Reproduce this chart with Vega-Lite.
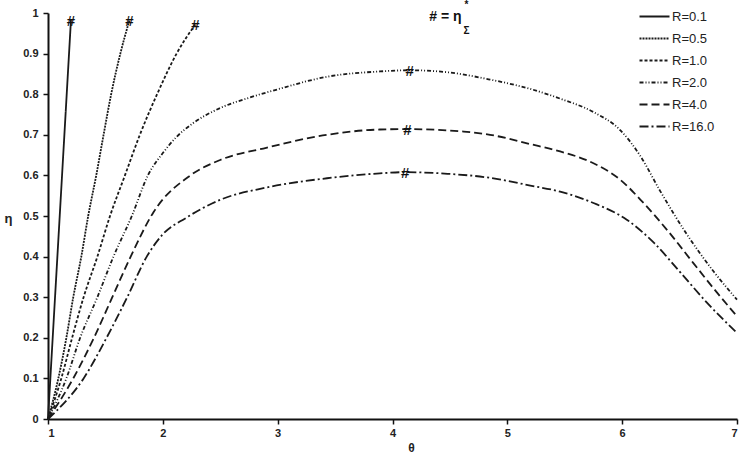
{
  "$schema": "https://vega.github.io/schema/vega-lite/v6.json",
  "width": 689,
  "height": 406,
  "autosize": {"type": "none"},
  "padding": {"left": 48, "top": 13, "right": 3, "bottom": 39},
  "background": "white",
  "config": {
    "view": {"stroke": null},
    "font": "Liberation Sans",
    "axis": {
      "grid": false,
      "domainColor": "#111",
      "domainWidth": 2,
      "tickColor": "#111",
      "tickWidth": 1.5,
      "tickSize": 5,
      "labelFont": "Liberation Sans",
      "labelFontWeight": "bold",
      "labelFontSize": 11,
      "labelColor": "#222",
      "titleFont": "Liberation Sans",
      "titleFontWeight": "bold",
      "titleColor": "#222"
    }
  },
  "datasets": {
    "curves": [
      {"theta": 1.0, "eta": 0.0, "R": "R=0.1"},
      {"theta": 1.1, "eta": 0.49, "R": "R=0.1"},
      {"theta": 1.2, "eta": 0.983, "R": "R=0.1"},

      {"theta": 1.0, "eta": 0.0, "R": "R=0.5"},
      {"theta": 1.09, "eta": 0.1, "R": "R=0.5"},
      {"theta": 1.16, "eta": 0.2, "R": "R=0.5"},
      {"theta": 1.22, "eta": 0.3, "R": "R=0.5"},
      {"theta": 1.29, "eta": 0.4, "R": "R=0.5"},
      {"theta": 1.35, "eta": 0.5, "R": "R=0.5"},
      {"theta": 1.42, "eta": 0.6, "R": "R=0.5"},
      {"theta": 1.484, "eta": 0.7, "R": "R=0.5"},
      {"theta": 1.55, "eta": 0.8, "R": "R=0.5"},
      {"theta": 1.63, "eta": 0.9, "R": "R=0.5"},
      {"theta": 1.71, "eta": 0.983, "R": "R=0.5"},

      {"theta": 1.0, "eta": 0.0, "R": "R=1.0"},
      {"theta": 1.116, "eta": 0.1, "R": "R=1.0"},
      {"theta": 1.21, "eta": 0.2, "R": "R=1.0"},
      {"theta": 1.31, "eta": 0.3, "R": "R=1.0"},
      {"theta": 1.43, "eta": 0.4, "R": "R=1.0"},
      {"theta": 1.54, "eta": 0.5, "R": "R=1.0"},
      {"theta": 1.67, "eta": 0.6, "R": "R=1.0"},
      {"theta": 1.80, "eta": 0.7, "R": "R=1.0"},
      {"theta": 1.95, "eta": 0.8, "R": "R=1.0"},
      {"theta": 2.12, "eta": 0.9, "R": "R=1.0"},
      {"theta": 2.283, "eta": 0.972, "R": "R=1.0"},

      {"theta": 1.0, "eta": 0.0, "R": "R=2.0"},
      {"theta": 1.16, "eta": 0.1, "R": "R=2.0"},
      {"theta": 1.28, "eta": 0.2, "R": "R=2.0"},
      {"theta": 1.43, "eta": 0.3, "R": "R=2.0"},
      {"theta": 1.57, "eta": 0.4, "R": "R=2.0"},
      {"theta": 1.73, "eta": 0.5, "R": "R=2.0"},
      {"theta": 1.87, "eta": 0.6, "R": "R=2.0"},
      {"theta": 2.0, "eta": 0.655, "R": "R=2.0"},
      {"theta": 2.12, "eta": 0.695, "R": "R=2.0"},
      {"theta": 2.26, "eta": 0.728, "R": "R=2.0"},
      {"theta": 2.5, "eta": 0.766, "R": "R=2.0"},
      {"theta": 2.76, "eta": 0.792, "R": "R=2.0"},
      {"theta": 3.0, "eta": 0.812, "R": "R=2.0"},
      {"theta": 3.43, "eta": 0.843, "R": "R=2.0"},
      {"theta": 3.89, "eta": 0.856, "R": "R=2.0"},
      {"theta": 4.15, "eta": 0.859, "R": "R=2.0"},
      {"theta": 4.48, "eta": 0.854, "R": "R=2.0"},
      {"theta": 4.85, "eta": 0.836, "R": "R=2.0"},
      {"theta": 5.2, "eta": 0.813, "R": "R=2.0"},
      {"theta": 5.46, "eta": 0.789, "R": "R=2.0"},
      {"theta": 5.75, "eta": 0.756, "R": "R=2.0"},
      {"theta": 5.985, "eta": 0.711, "R": "R=2.0"},
      {"theta": 6.16, "eta": 0.647, "R": "R=2.0"},
      {"theta": 6.33, "eta": 0.562, "R": "R=2.0"},
      {"theta": 6.57, "eta": 0.452, "R": "R=2.0"},
      {"theta": 6.8, "eta": 0.362, "R": "R=2.0"},
      {"theta": 7.0, "eta": 0.294, "R": "R=2.0"},

      {"theta": 1.0, "eta": 0.0, "R": "R=4.0"},
      {"theta": 1.22, "eta": 0.1, "R": "R=4.0"},
      {"theta": 1.40, "eta": 0.2, "R": "R=4.0"},
      {"theta": 1.56, "eta": 0.3, "R": "R=4.0"},
      {"theta": 1.72, "eta": 0.4, "R": "R=4.0"},
      {"theta": 1.92, "eta": 0.51, "R": "R=4.0"},
      {"theta": 2.24, "eta": 0.6, "R": "R=4.0"},
      {"theta": 2.5, "eta": 0.638, "R": "R=4.0"},
      {"theta": 2.9, "eta": 0.668, "R": "R=4.0"},
      {"theta": 3.43, "eta": 0.700, "R": "R=4.0"},
      {"theta": 3.89, "eta": 0.713, "R": "R=4.0"},
      {"theta": 4.13, "eta": 0.714, "R": "R=4.0"},
      {"theta": 4.62, "eta": 0.708, "R": "R=4.0"},
      {"theta": 4.85, "eta": 0.700, "R": "R=4.0"},
      {"theta": 5.2, "eta": 0.677, "R": "R=4.0"},
      {"theta": 5.46, "eta": 0.659, "R": "R=4.0"},
      {"theta": 5.75, "eta": 0.630, "R": "R=4.0"},
      {"theta": 5.985, "eta": 0.589, "R": "R=4.0"},
      {"theta": 6.16, "eta": 0.540, "R": "R=4.0"},
      {"theta": 6.39, "eta": 0.466, "R": "R=4.0"},
      {"theta": 6.62, "eta": 0.384, "R": "R=4.0"},
      {"theta": 6.83, "eta": 0.310, "R": "R=4.0"},
      {"theta": 7.0, "eta": 0.253, "R": "R=4.0"},

      {"theta": 1.0, "eta": 0.0, "R": "R=16.0"},
      {"theta": 1.31, "eta": 0.1, "R": "R=16.0"},
      {"theta": 1.51, "eta": 0.2, "R": "R=16.0"},
      {"theta": 1.69, "eta": 0.3, "R": "R=16.0"},
      {"theta": 1.86, "eta": 0.4, "R": "R=16.0"},
      {"theta": 2.0, "eta": 0.455, "R": "R=16.0"},
      {"theta": 2.2, "eta": 0.495, "R": "R=16.0"},
      {"theta": 2.5, "eta": 0.540, "R": "R=16.0"},
      {"theta": 2.9, "eta": 0.570, "R": "R=16.0"},
      {"theta": 3.43, "eta": 0.593, "R": "R=16.0"},
      {"theta": 3.89, "eta": 0.605, "R": "R=16.0"},
      {"theta": 4.11, "eta": 0.608, "R": "R=16.0"},
      {"theta": 4.48, "eta": 0.604, "R": "R=16.0"},
      {"theta": 4.85, "eta": 0.594, "R": "R=16.0"},
      {"theta": 5.2, "eta": 0.575, "R": "R=16.0"},
      {"theta": 5.46, "eta": 0.560, "R": "R=16.0"},
      {"theta": 5.75, "eta": 0.532, "R": "R=16.0"},
      {"theta": 6.04, "eta": 0.491, "R": "R=16.0"},
      {"theta": 6.28, "eta": 0.433, "R": "R=16.0"},
      {"theta": 6.51, "eta": 0.360, "R": "R=16.0"},
      {"theta": 6.74, "eta": 0.286, "R": "R=16.0"},
      {"theta": 7.0, "eta": 0.212, "R": "R=16.0"}
    ],
    "marks": [
      {"theta": 1.2, "eta": 0.983, "t": "#"},
      {"theta": 1.71, "eta": 0.983, "t": "#"},
      {"theta": 2.283, "eta": 0.972, "t": "#"},
      {"theta": 4.15, "eta": 0.859, "t": "#"},
      {"theta": 4.13, "eta": 0.714, "t": "#"},
      {"theta": 4.11, "eta": 0.608, "t": "#"}
    ]
  },
  "layer": [
    {
      "data": {"name": "curves"},
      "mark": {"type": "line", "interpolate": "monotone", "color": "#1a1a1a", "strokeWidth": 1.8},
      "encoding": {
        "x": {
          "field": "theta", "type": "quantitative",
          "scale": {"domain": [1, 7], "nice": false, "zero": false},
          "axis": {"values": [1, 2, 3, 4, 5, 6, 7], "format": "d", "title": "θ", "titleFontSize": 12, "titleX": 363, "titleY": 28, "titleAnchor": "middle", "titleAlign": "center", "titleBaseline": "middle", "labelPadding": 3}
        },
        "y": {
          "field": "eta", "type": "quantitative",
          "scale": {"domain": [0, 1], "nice": false},
          "axis": {"values": [0, 0.1, 0.2, 0.3, 0.4, 0.5, 0.6, 0.7, 0.8, 0.9, 1], "format": "~g", "title": "η", "titleFontSize": 13, "titleAngle": 0, "titleX": -40, "titleY": 205, "titleAlign": "center", "titleBaseline": "middle", "labelPadding": 5}
        },
        "strokeDash": {
          "field": "R", "type": "nominal",
          "scale": {
            "domain": ["R=0.1", "R=0.5", "R=1.0", "R=2.0", "R=4.0", "R=16.0"],
            "range": [[1, 0], [2, 1], [3, 2], [4, 2, 1, 2, 1, 2], [8, 4], [9, 3, 2, 3]]
          },
          "legend": {
            "title": null,
            "orient": "none",
            "legendX": 600,
            "legendY": -3,
            "symbolType": "M-3,0H3",
            "symbolSize": 100,
            "symbolStrokeWidth": 1.8,
            "symbolStrokeColor": "#1a1a1a",
            "labelFont": "Liberation Sans",
            "labelFontSize": 13,
            "labelColor": "#222",
            "labelOffset": 11,
            "rowPadding": 8
          }
        }
      }
    },
    {
      "data": {"name": "marks"},
      "mark": {"type": "text", "font": "Liberation Sans", "fontWeight": "bold", "fontSize": 15, "color": "#111", "align": "center", "baseline": "middle", "dy": 1},
      "encoding": {
        "x": {"field": "theta", "type": "quantitative"},
        "y": {"field": "eta", "type": "quantitative"},
        "text": {"field": "t"}
      }
    },
    {
      "data": {"values": [{"theta": 4.32, "eta": 0.99, "t": "# = η"}]},
      "mark": {"type": "text", "font": "Liberation Sans", "fontWeight": "bold", "fontSize": 14, "color": "#111", "align": "left", "baseline": "middle"},
      "encoding": {
        "x": {"field": "theta", "type": "quantitative"},
        "y": {"field": "eta", "type": "quantitative"},
        "text": {"field": "t"}
      }
    },
    {
      "data": {"values": [{"theta": 4.645, "eta": 1.02, "t": "*"}, {"theta": 4.645, "eta": 0.955, "t": "Σ"}]},
      "mark": {"type": "text", "font": "Liberation Sans", "fontWeight": "bold", "fontSize": 10, "color": "#111", "align": "center", "baseline": "middle"},
      "encoding": {
        "x": {"field": "theta", "type": "quantitative"},
        "y": {"field": "eta", "type": "quantitative"},
        "text": {"field": "t"}
      }
    }
  ]
}
